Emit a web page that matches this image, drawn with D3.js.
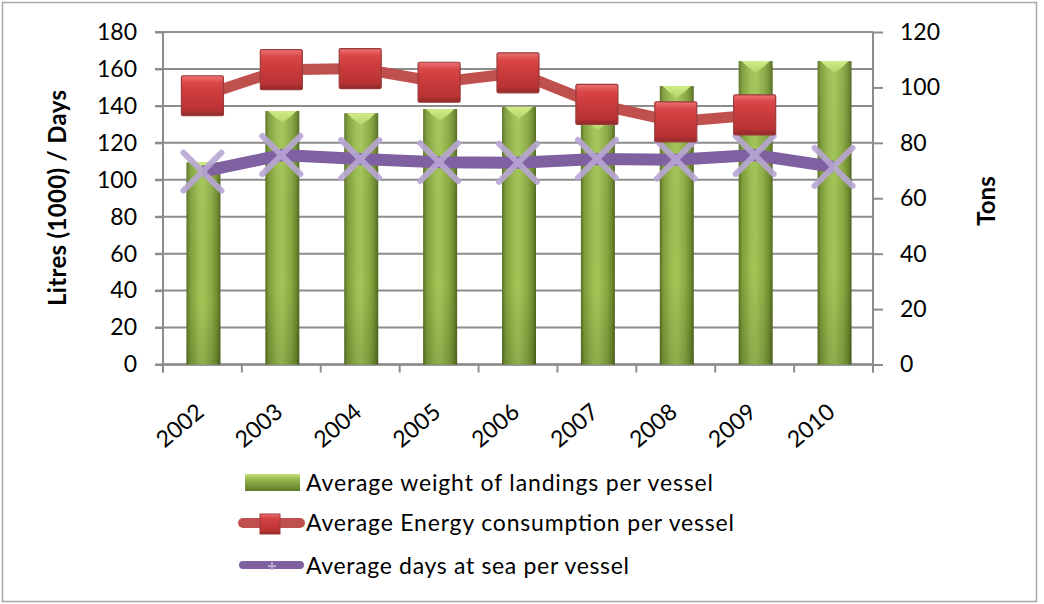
<!DOCTYPE html>
<html>
<head>
<meta charset="utf-8">
<script src="https://cdn.jsdelivr.net/npm/d3@7"></script>
<style>
  html, body { margin: 0; padding: 0; background: #fff; }
  svg { display: block; font-family: Lato, "Open Sans", sans-serif; }
</style>
</head>
<body>
<svg id="chart" width="1044" height="604"></svg>
<script>
// ---- data ----
const years = ["2002", "2003", "2004", "2005", "2006", "2007", "2008", "2009", "2010"];
const landingsTons = [73, 91.5, 90.7, 92.2, 93, 89, 100.5, 109.5, 109.5];      // right axis (Tons)
const energyLitres = [145.5, 159.6, 160.2, 152.8, 157.9, 140.8, 131.4, 135.1, null]; // left axis
const daysAtSea = [104.4, 113.4, 111.2, 109.5, 109.2, 111.3, 110.9, 113.4, 107];    // left axis
const leftTicks = [0, 20, 40, 60, 80, 100, 120, 140, 160, 180];
const rightTicks = [0, 20, 40, 60, 80, 100, 120];
const seriesNames = [
  "Average weight of landings per vessel",
  "Average Energy consumption  per vessel",
  "Average days at sea per vessel"
];
const leftTitle = "Litres (1000) / Days";
const rightTitle = "Tons";

// ---- layout ----
const svg = d3.select("#chart");
const L = 163, R = 873, T = 32, B = 364.5;
const x = d3.scaleBand().domain(years).range([L, R]).padding(0);
const yL = d3.scaleLinear().domain([0, 180]).range([B, T]);
const yR = d3.scaleLinear().domain([0, 120]).range([B, T]);

const defs = svg.append("defs");
const gBar = defs.append("linearGradient").attr("id", "barG").attr("x1", 0).attr("x2", 1).attr("y1", 0).attr("y2", 0);
[[0, "#587023"], [0.1, "#7d9c3a"], [0.35, "#9cbf52"], [0.5, "#a2c556"], [0.75, "#8aaa44"], [0.9, "#6f8d2e"], [1, "#4f6620"]]
  .forEach(([o, c]) => gBar.append("stop").attr("offset", o).attr("stop-color", c));
const gBarV = defs.append("linearGradient").attr("id", "barShade").attr("x1", 0).attr("x2", 0).attr("y1", 0).attr("y2", 1);
[[0, "#ffffff", 0.05], [0.7, "#000000", 0.0], [1, "#000000", 0.12]]
  .forEach(([o, c, a]) => gBarV.append("stop").attr("offset", o).attr("stop-color", c).attr("stop-opacity", a));
const gCap = defs.append("linearGradient").attr("id", "capG").attr("x1", 0).attr("x2", 0).attr("y1", 0).attr("y2", 1);
[[0, "#d2ec86"], [1, "#b3d36a"]].forEach(([o, c]) => gCap.append("stop").attr("offset", o).attr("stop-color", c));
const gRed = defs.append("linearGradient").attr("id", "redG").attr("x1", 0).attr("x2", 0).attr("y1", 0).attr("y2", 1);
[[0, "#ee7475"], [0.18, "#d94646"], [0.5, "#c93a3b"], [0.85, "#b93334"], [1, "#8e2a2b"]]
  .forEach(([o, c]) => gRed.append("stop").attr("offset", o).attr("stop-color", c));
const gLeg = defs.append("linearGradient").attr("id", "legG").attr("x1", 0).attr("x2", 0).attr("y1", 0).attr("y2", 1);
[[0, "#c4e07a"], [0.3, "#97b94f"], [1, "#5f7c27"]].forEach(([o, c]) => gLeg.append("stop").attr("offset", o).attr("stop-color", c));

// frame
svg.append("rect").attr("x", 2.5).attr("y", 2.5).attr("width", 1034).attr("height", 599)
  .attr("fill", "#fff").attr("stroke", "#a6a6a6").attr("stroke-width", 1.5);

// gridlines
svg.append("g").selectAll("line").data(leftTicks).join("line")
  .attr("x1", L - 8).attr("x2", R).attr("y1", d => yL(d)).attr("y2", d => yL(d))
  .attr("stroke", "#8c8c8c").attr("stroke-width", 2);

// left axis
const axL = svg.append("g").attr("transform", `translate(${L},0)`)
  .call(d3.axisLeft(yL).tickValues(leftTicks).tickSize(8).tickPadding(18));
axL.select(".domain").remove();
axL.selectAll("line").attr("stroke", "#8c8c8c").attr("stroke-width", 2);
axL.selectAll("text").attr("font-size", 23).attr("fill", "#000").attr("font-family", "Lato");
svg.append("line").attr("x1", L).attr("x2", L).attr("y1", T).attr("y2", B + 8)
  .attr("stroke", "#8c8c8c").attr("stroke-width", 2);

// right axis
const axR = svg.append("g").attr("transform", `translate(${R},0)`)
  .call(d3.axisRight(yR).tickValues(rightTicks).tickSize(10).tickPadding(17));
axR.select(".domain").remove();
axR.selectAll("line").attr("stroke", "#8c8c8c").attr("stroke-width", 2);
axR.selectAll("text").attr("font-size", 23).attr("fill", "#000").attr("font-family", "Lato");
svg.append("line").attr("x1", R).attr("x2", R).attr("y1", T).attr("y2", B + 8)
  .attr("stroke", "#8c8c8c").attr("stroke-width", 2);

// bottom axis
const bandEdges = years.map(d => x(d)).concat([R]);
svg.append("g").selectAll("line").data(bandEdges).join("line")
  .attr("x1", d => d).attr("x2", d => d).attr("y1", B).attr("y2", B + 8)
  .attr("stroke", "#8c8c8c").attr("stroke-width", 2);
svg.append("line").attr("x1", L).attr("x2", R).attr("y1", B).attr("y2", B)
  .attr("stroke", "#8c8c8c").attr("stroke-width", 2.5);
svg.append("g").selectAll("text").data(years).join("text")
  .attr("transform", d => `translate(${x(d) + x.bandwidth() / 2 + 3},${B + 50}) rotate(-40)`)
  .attr("text-anchor", "end").attr("font-size", 23).attr("fill", "#000")
  .text(d => d);

// bars
const bw = 34;
const bars = svg.append("g");
years.forEach((yr, i) => {
  const cx = x(yr) + x.bandwidth() / 2 + 1;
  const top = yR(landingsTons[i]);
  bars.append("rect").attr("x", cx - bw / 2).attr("y", top).attr("width", bw).attr("height", B - top)
    .attr("fill", "url(#barG)");
  bars.append("rect").attr("x", cx - bw / 2).attr("y", top).attr("width", bw).attr("height", B - top)
    .attr("fill", "url(#barShade)");
  bars.append("path")
    .attr("d", `M${cx - bw / 2 + 3},${top} L${cx + bw / 2 - 3},${top} L${cx + bw / 2 - 8},${top + 5} L${cx},${top + 12} L${cx - bw / 2 + 8},${top + 5} Z`)
    .attr("fill", "url(#capG)");
});

// energy line
const energyPts = years.map((yr, i) => ({ yr, v: energyLitres[i] })).filter(d => d.v !== null);
const lineE = d3.line().x(d => x(d.yr) + x.bandwidth() / 2).y(d => yL(d.v));
svg.append("path").attr("d", lineE(energyPts)).attr("fill", "none")
  .attr("stroke", "#c0504d").attr("stroke-width", 11);

// days line
const daysPts = years.map((yr, i) => ({ yr, v: daysAtSea[i] }));
svg.append("path").attr("d", lineE(daysPts)).attr("fill", "none")
  .attr("stroke", "#7f60a1").attr("stroke-width", 12);

// X markers
const xs = 19;
svg.append("g").selectAll("path").data(daysPts).join("path")
  .attr("d", d => {
    const cx = x(d.yr) + x.bandwidth() / 2, cy = yL(d.v);
    return `M${cx - xs},${cy - xs}L${cx + xs},${cy + xs}M${cx - xs},${cy + xs}L${cx + xs},${cy - xs}`;
  })
  .attr("stroke", "#b8a6d4").attr("stroke-width", 6).attr("stroke-opacity", 0.9)
  .attr("stroke-linecap", "round").attr("fill", "none");

// red square markers
const mw = 42, mh = 40;
svg.append("g").selectAll("rect").data(energyPts).join("rect")
  .attr("x", d => x(d.yr) + x.bandwidth() / 2 - mw / 2)
  .attr("y", d => yL(d.v) - mh / 2)
  .attr("width", mw).attr("height", mh).attr("rx", 1.5)
  .attr("fill", "url(#redG)").attr("stroke", "#9a3a3a").attr("stroke-width", 1.2);

// axis titles
svg.append("text").attr("transform", `translate(66,198) rotate(-90)`)
  .attr("text-anchor", "middle").attr("font-size", 24).attr("font-weight", "bold").attr("fill", "#000")
  .attr("textLength", 216).attr("lengthAdjust", "spacing")
  .text(leftTitle);
svg.append("text").attr("transform", `translate(995,201) rotate(-90)`)
  .attr("text-anchor", "middle").attr("font-size", 24).attr("font-weight", "bold").attr("fill", "#000")
  .text(rightTitle);

// legend
const leg = svg.append("g");
const rows = [483, 523, 566];
const textLens = [407, 428, 323];
leg.append("rect").attr("x", 245).attr("y", 474).attr("width", 55).attr("height", 17).attr("fill", "url(#legG)");
leg.append("line").attr("x1", 243).attr("x2", 300).attr("y1", 523).attr("y2", 523)
  .attr("stroke", "#c0504d").attr("stroke-width", 10).attr("stroke-linecap", "round");
leg.append("rect").attr("x", 260).attr("y", 514).attr("width", 20).attr("height", 20)
  .attr("fill", "url(#redG)").attr("stroke", "#9a3a3a").attr("stroke-width", 1);
leg.append("line").attr("x1", 243).attr("x2", 300).attr("y1", 565).attr("y2", 565)
  .attr("stroke", "#7f60a1").attr("stroke-width", 8).attr("stroke-linecap", "round");
leg.append("path").attr("d", "M268,566h8M272,562v8").attr("stroke", "#b8a6d4").attr("stroke-width", 2);
leg.selectAll("text").data(seriesNames).join("text")
  .attr("x", 306).attr("y", (d, i) => rows[i] + 8)
  .attr("font-size", 23).attr("fill", "#000")
  .attr("textLength", (d, i) => textLens[i]).attr("lengthAdjust", "spacing")
  .text(d => d);
</script>
</body>
</html>
